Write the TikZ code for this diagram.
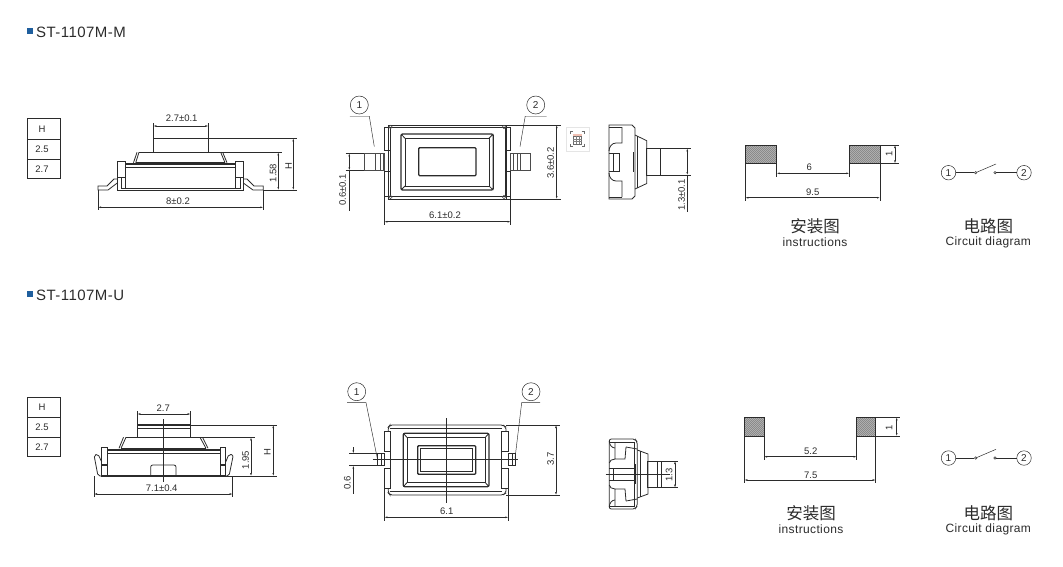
\documentclass[tikz,border=0pt]{standalone}
\usepackage{fontspec}
\setmainfont{Liberation Sans}
\newfontfamily\widefont[LetterSpace=3]{Liberation Sans}
\newfontfamily\cjkfont{Noto Sans CJK SC}
\usetikzlibrary{arrows.meta}
\definecolor{inkgray}{HTML}{2B2B2B}
\definecolor{markblue}{HTML}{1F5F9E}
\tikzset{
  part/.style={line width=0.8, color=inkgray},
  partthin/.style={line width=0.4, color=inkgray!85},
  partbold/.style={line width=1.3, color=inkgray},
  dimline/.style={line width=0.5, color=inkgray, {Latex[length=3pt,width=1.8pt]}-{Latex[length=3pt,width=1.8pt]}},
  extline/.style={line width=0.45, color=inkgray},
  dimtext/.style={font=\fontsize{9.5}{10}\selectfont, text=inkgray, inner sep=0},
  pinmark/.style={circle, draw=inkgray, line width=0.5, minimum size=18pt, inner sep=0, font=\fontsize{10}{10}\selectfont, text=inkgray},
  pinsmall/.style={circle, draw=inkgray, line width=0.5, minimum size=14.5pt, inner sep=0, font=\fontsize{10}{10}\selectfont, text=inkgray},
  tinydot/.style={circle, draw=inkgray, line width=0.5, minimum size=2.4pt, inner sep=0},
  cjklabel/.style={font=\cjkfont\fontsize{16.5}{17}\selectfont, text=inkgray, inner sep=0},
  enlabel/.style={font=\widefont\fontsize{12}{12}\selectfont, text=inkgray, inner sep=0},
  headtext/.style={font=\widefont\fontsize{15}{15}\selectfont, text=inkgray, inner sep=0, anchor=west},
}
% hatched footprint pad
\newcommand{\hatchpad}[4]{%
  \begin{scope}
    \clip (#1,#2) rectangle (#3,#4);
    \foreach \k in {0,2,...,60} {%
      \draw [line width=0.7, color=inkgray!75] (#1+\k-22,#4) -- ++(22,-22);%
    }%
  \end{scope}
  \draw [part] (#1,#2) rectangle (#3,#4);%
}
\begin{document}
\begin{tikzpicture}[x=1pt, y=-1pt]
  \useasboundingbox (0,0) rectangle (1063,566);

  % headings
  \foreach \nm/\txt/\yy in {headM/ST-1107M-M/32, headU/ST-1107M-U/295} {%
    \fill [markblue] (27.3,\yy-3.7) rectangle ++(6,6);
    \node [headtext] (\nm) at (36,\yy+0.5) {\txt};
  }

  % height tables
  \foreach \nm/\ya/\yb/\yc/\yd in {tabM/118.5/139.5/159.7/178, tabU/397.3/417.3/437.7/456.7} {%
    \draw [part] (27,\ya) rectangle (60.5,\yd);
    \draw [part] (27,\yb) -- (60.5,\yb) (27,\yc) -- (60.5,\yc);
    \node [dimtext] (\nm h) at (42,{(\ya+\yb)/2}) {H};
    \node [dimtext] (\nm a) at (42,{(\yb+\yc)/2}) {2.5};
    \node [dimtext] (\nm b) at (42,{(\yc+\yd)/2}) {2.7};
  }

  %%%%% ST-1107M-M front view
  \draw [part] (153.3,152.3) -- (153.3,138.3) -- (208.3,138.3) -- (208.3,152.3);
  \draw [partbold] (139,152.3) -- (220.7,152.3);
  \draw [part] (139,152.3) -- (135.7,162.7) (137,152.3) -- (133.5,162.7);
  \draw [part] (220.7,152.3) -- (225,162.7) (222.7,152.3) -- (227,162.7);
  \draw [part] (135.7,162.7) -- (225,162.7);
  \draw [partbold] (125,164) -- (235,164);
  \draw [part] (125,167.3) -- (235,167.3);
  \draw [part] (117.3,161.7) rectangle (125,177) (235.7,161.7) rectangle (243.3,177);
  \draw [part] (117.3,161.7) -- (117.3,190) -- (243.3,190) -- (243.3,161.7);
  \draw [part] (125,161.7) -- (125,164) (235.7,161.7) -- (235.7,164);
  \draw [part] (121,177) -- (121,188) -- (240,188) -- (240,177);
  \draw [part] (125,177) -- (125,188) (235.7,177) -- (235.7,188);
  \draw [part] (117.3,179) -- (114,179) -- (107,186) -- (98,186) -- (98,190) -- (108,190) -- (117.3,183);
  \draw [part] (243.3,179) -- (247,179) -- (254,186) -- (263.3,186) -- (263.3,190) -- (253,190) -- (243.3,183);

  \draw [extline] (153.3,123) -- (153.3,138.3) (208.3,123) -- (208.3,138.3);
  \draw [dimline] (153.3,126) -- (208.3,126);
  \node [dimtext] (dimMa) at (181.7,118.7) {2.7±0.1};
  \draw [extline] (98,190) -- (98,210) (263.3,190) -- (263.3,210);
  \draw [dimline] (98,207.3) -- (263.3,207.3);
  \node [dimtext] (dimMb) at (178,201) {8±0.2};
  \draw [extline] (220.7,152.3) -- (282,152.3) (263.3,190) -- (297,190) (208.3,138.3) -- (297,138.3);
  \draw [dimline] (278.3,152.3) -- (278.3,190);
  \node [dimtext, rotate=90] (dimMc) at (273,173) {1.58};
  \draw [dimline] (293.3,138.3) -- (293.3,190);
  \node [dimtext, rotate=90] (dimMd) at (288.5,166) {H};

  %%%%% ST-1107M-M top view
  \draw [part] (388,125) -- (506,125) (388,199) -- (506,199);
  \draw [part] (384.3,127.7) -- (390,127.7) -- (390,150.7) -- (384.3,150.7) -- cycle;
  \draw [part] (384.3,171.7) -- (390,171.7) -- (390,196.7) -- (384.3,196.7) -- cycle;
  \draw [part] (510.7,127.7) -- (505,127.7) -- (505,150.7) -- (510.7,150.7) -- cycle;
  \draw [part] (510.7,171.7) -- (505,171.7) -- (505,196.7) -- (510.7,196.7) -- cycle;
  \draw [part] (388,125) -- (388,199) (506,125) -- (506,199);
  \draw [part] (390,150.7) -- (390,171.7) (505,150.7) -- (505,171.7);
  \draw [part] (390,127.7) -- (505,127.7) (390,196.7) -- (505,196.7);
  \foreach \cx/\cy in {390.5/127, 504/127, 390.5/197, 504/197} {%
    \draw [partthin, line width=0.6] (\cx,\cy) circle (1.8);
  }
  \draw [partbold, rounded corners=1.5] (401,134) rectangle (493.3,190);
  \draw [part] (405,138.3) rectangle (489,186);
  \draw [part] (401,134) -- (405,138.3) (493.3,134) -- (489,138.3)
               (401,190) -- (405,186) (493.3,190) -- (489,186);
  \draw [partbold, rounded corners=1] (418.7,147.7) rectangle (476,175.7);
  \foreach \xa/\xb/\xc/\xd in {364.3/384.3/375/383, 530.7/510.7/520/513} {%
    \draw [partthin, line width=0.6] (\xa,153.3) rectangle (\xb,170.3);
    \draw [partthin] (\xc,153.3) -- (\xc,170.3) (\xd,153.3) -- (\xd,170.3);
    \draw [partthin] ({(\xc+\xd)/2+1},153.3) -- ({(\xc+\xd)/2+1},170.3);
  }

  \node [pinmark] (pinMa) at (359.3,105) {1};
  \node [pinmark] (pinMb) at (535.7,105) {2};
  \coordinate (leadMa) at (374.3,146.7);
  \coordinate (leadMb) at (520,146.7);
  \draw [extline] ([xshift=-9.5pt,yshift=-2pt]pinMa.south) -- ([xshift=10pt,yshift=-2pt]pinMa.south) -- (leadMa);
  \draw [extline] ([xshift=11pt,yshift=-2pt]pinMb.south) -- ([xshift=-10.5pt,yshift=-2pt]pinMb.south) -- (leadMb);

  \draw [extline] (506,125) -- (561,125) (506,199) -- (561,199);
  \draw [dimline] (556.7,125) -- (556.7,199);
  \node [dimtext, rotate=90] (dimMe) at (550.7,163) {3.6±0.2};
  \draw [extline] (384.3,196.7) -- (384.3,225) (510.7,196.7) -- (510.7,225);
  \draw [dimline] (384.3,221.7) -- (510.7,221.7);
  \node [dimtext] (dimMf) at (445,215) {6.1±0.2};
  \draw [extline] (345.7,153.3) -- (364.3,153.3) (345.7,170.3) -- (364.3,170.3);
  \draw [dimline] (349.3,153.3) -- (349.3,170.3);
  \draw [extline] (349.3,170.3) -- (349.3,210.7);
  \node [dimtext, rotate=90] (dimMg) at (342.7,190) {0.6±0.1};

  % screenshot tool icon
  \fill [black!5] (566.5,128) rectangle (590,151.7);
  \draw [line width=0.3, color=black!10, fill=white] (565.7,127.3) rectangle (589,150.7);
  \draw [line width=0.5, color=inkgray!70] (570.5,134) -- (570.5,131.7) -- (573,131.7)
        (581.5,131.7) -- (584,131.7) -- (584,134)
        (584,143.5) -- (584,146) -- (581.5,146)
        (573,146) -- (570.5,146) -- (570.5,143.5);
  \fill [red!40!brown!35] (573,134.3) rectangle (581.5,136);
  \draw [line width=0.35, color=inkgray!70] (573,136) rectangle (581.5,144);
  \foreach \gx in {575.8,578.7} {\draw [line width=0.25, color=inkgray!60] (\gx,136) -- (\gx,144);}
  \foreach \gy in {138.7,141.3} {\draw [line width=0.25, color=inkgray!60] (573,\gy) -- (581.5,\gy);}

  %%%%% ST-1107M-M side view
  \draw [part] (609,125) -- (632,125) -- (635,128) -- (635,196) -- (632,199) -- (609,199) -- cycle;
  \draw [part] (635,135) -- (646.7,140.7) -- (646.7,183.5) -- (635,189);
  \draw [part] (637.5,136) -- (637.5,188);
  \draw [part] (609,127) -- (622,127) (609,197) -- (622,197);
  \draw [part] (622,127) -- (622,143) -- (616,143) arc (270:180:7 and 8);
  \draw [part] (622,197) -- (622,181) -- (616,181) arc (90:180:7 and 8);
  \draw [part] (609,153) -- (619,153) -- (619,171) -- (609,171);
  \draw [part] (613,153) -- (613,171);
  \draw [partbold] (633.5,152) -- (633.5,172);
  \draw [part] (646.7,148.3) rectangle (660.7,175);
  \draw [part] (660.7,148.3) -- (691,148.3) (660.7,175) -- (691,175);
  \draw [dimline] (687.3,148.3) -- (687.3,175);
  \draw [extline] (687.3,175) -- (687.3,211.7);
  \node [dimtext, rotate=90] (dimMh) at (681.7,195) {1.3±0.1};

  %%%%% footprint M
  \hatchpad{745.3}{145}{776.7}{163.3}
  \hatchpad{849.3}{145}{880}{163.3}
  \draw [extline] (745.3,163.3) -- (745.3,201) (880,163.3) -- (880,201);
  \draw [extline] (776.7,163.3) -- (776.7,176.5) (849.3,163.3) -- (849.3,176.5);
  \draw [dimline] (776.7,173.3) -- (849.3,173.3);
  \node [dimtext] (dimMi) at (809.3,167.7) {6};
  \draw [dimline] (745.3,197.7) -- (880,197.7);
  \node [dimtext] (dimMj) at (812.7,192.7) {9.5};
  \draw [extline] (880,145) -- (899,145) (880,163.3) -- (899,163.3);
  \draw [dimline] (895,145) -- (895,163.3);
  \node [dimtext, rotate=90] (dimMk) at (889,154.3) {1};
  \node [cjklabel] (instM) at (815,226.7) {安装图};
  \node [enlabel] (instMe) at (815,242.7) {instructions};

  %%%%% circuits
  \foreach \nm/\cy/\ly/\ey in {M/172.7/226/242.3, U/458/513/529} {%
    \node [pinsmall] (sw\nm a) at (948.5,\cy) {1};
    \node [pinsmall] (sw\nm b) at (1024,\cy) {2};
    \node [tinydot] (sw\nm c) at (975.7,\cy) {};
    \node [tinydot] (sw\nm d) at (995,\cy) {};
    \coordinate (sw\nm e) at (996,\cy-8.7);
    \draw [extline, line width=0.5] (sw\nm a) -- (sw\nm c);
    \draw [extline, line width=0.5] (sw\nm d) -- (sw\nm b);
    \draw [extline, line width=0.5] (sw\nm c) -- (sw\nm e);
    \node [cjklabel] (sw\nm t) at (988.3,\ly) {电路图};
    \node [enlabel] (sw\nm g) at (988.3,\ey) {Circuit diagram};
  }

  %%%%% ST-1107M-U front view
  \draw [partbold] (137.3,425) -- (190.7,425);
  \draw [part] (137.3,425) rectangle (190.7,437.3);
  \draw [part] (137.3,428) -- (190.7,428);
  \draw [partbold] (126,437.3) -- (200,437.3);
  \draw [part] (126,437.3) -- (121,448.3) (123.5,437.3) -- (119,448.3);
  \draw [part] (200,437.3) -- (206,448.3) (202.5,437.3) -- (208,448.3);
  \draw [part] (121,448.3) -- (206,448.3);
  \draw [partbold] (107.3,450) -- (220,450);
  \draw [part] (107.3,453.3) -- (220,453.3);
  \draw [part] (107.3,450) -- (107.3,476) (220,450) -- (220,476);
  \draw [part] (101.7,447.7) rectangle (107.3,476) (220,447.7) rectangle (225.7,476);
  \draw [partbold] (101.7,465) -- (107.3,465) (220,465) -- (225.7,465);
  \draw [partbold] (101.7,476) -- (225.7,476);
  \draw [part, rounded corners=2] (150.7,476) -- (150.7,465) -- (176,465) -- (176,476);
  \draw [part, rounded corners=2] (101.7,476) -- (98,476) -- (94,455) -- (98,454) -- (101.7,462);
  \draw [part, rounded corners=2] (225.7,476) -- (229,476) -- (233.3,455) -- (229,454) -- (225.7,462);
  \draw [extline, line width=0.5] (163.3,419.3) -- (163.3,481.7);

  \draw [extline] (137.3,411) -- (137.3,425) (190.7,411) -- (190.7,425);
  \draw [dimline] (137.3,414) -- (190.7,414);
  \node [dimtext] (dimUa) at (163.3,407.7) {2.7};
  \draw [extline] (94,476) -- (94,497) (232.7,476) -- (232.7,497);
  \draw [dimline] (94,494) -- (232.7,494);
  \node [dimtext] (dimUb) at (161.7,488.3) {7.1±0.4};
  \draw [extline] (200,437.3) -- (255,437.3) (225.7,476) -- (277,476) (190.7,425) -- (277,425);
  \draw [dimline] (251,437.3) -- (251,476);
  \node [dimtext, rotate=90] (dimUc) at (245.7,460) {1.95};
  \draw [dimline] (273.3,425) -- (273.3,476);
  \node [dimtext, rotate=90] (dimUd) at (267.3,451.7) {H};

  %%%%% ST-1107M-U top view
  \draw [part, rounded corners=2] (388.3,431.7) -- (388.3,427) -- (390,425) -- (503,425) -- (506,427) -- (506,431.7);
  \draw [part, rounded corners=2] (388.3,488.3) -- (388.3,493) -- (390,495) -- (503,495) -- (506,493) -- (506,488.3);
  \draw [part] (384.3,431.7) rectangle (390,451);
  \draw [part] (384.3,468.3) rectangle (390,488.3);
  \draw [part] (501.7,431.7) rectangle (508.3,451);
  \draw [part] (501.7,468.3) rectangle (508.3,488.3);
  \draw [part] (390,451) -- (390,468.3) (501.7,451) -- (501.7,468.3);
  \draw [part] (390,428.5) -- (501.7,428.5) (390,491.5) -- (501.7,491.5);
  \draw [partbold, rounded corners=1.5] (403.3,433.3) rectangle (489,486.7);
  \draw [part] (407.3,437.7) rectangle (485,482.3);
  \draw [part] (403.3,433.3) -- (407.3,437.7) (489,433.3) -- (485,437.7)
               (403.3,486.7) -- (407.3,482.3) (489,486.7) -- (485,482.3);
  \draw [partbold, rounded corners=1] (417.7,445.7) rectangle (475.7,474.3);
  \draw [part] (420.7,448.7) rectangle (472.7,471.3);
  \draw [part] (377.3,453.3) rectangle (384.3,465.7);
  \draw [part] (508.3,453.3) rectangle (515,465.7);
  \draw [part] (381,453.3) -- (381,465.7) (512,453.3) -- (512,465.7);
  \draw [extline, line width=0.5] (446.3,418.3) -- (446.3,503.3);
  \draw [extline, line width=0.5] (372.7,459.3) -- (518.3,459.3);

  \node [pinmark] (pinUa) at (356.7,391.7) {1};
  \node [pinmark] (pinUb) at (531,391.7) {2};
  \coordinate (leadUa) at (377.3,458.3);
  \coordinate (leadUb) at (515,458.3);
  \draw [extline] ([xshift=-9.5pt,yshift=-1.6pt]pinUa.south) -- ([xshift=9.3pt,yshift=-1.6pt]pinUa.south) -- (leadUa);
  \draw [extline] ([xshift=9pt,yshift=-1.6pt]pinUb.south) -- ([xshift=-9.3pt,yshift=-1.6pt]pinUb.south) -- (leadUb);

  \draw [extline] (506,425) -- (560,425) (506,495) -- (560,495);
  \draw [dimline] (556,425) -- (556,495);
  \node [dimtext, rotate=90] (dimUe) at (550.7,459.3) {3.7};
  \draw [extline] (384.3,488) -- (384.3,521) (508.3,488) -- (508.3,521);
  \draw [dimline] (384.3,517.3) -- (508.3,517.3);
  \node [dimtext] (dimUf) at (446.7,511) {6.1};
  \draw [extline] (349.3,453.3) -- (377.3,453.3) (349.3,465.7) -- (377.3,465.7);
  \draw [extline, {Latex[length=3pt,width=1.8pt]}-] (353.3,453.3) -- (353.3,446.7);
  \draw [extline, {Latex[length=3pt,width=1.8pt]}-] (353.3,465.7) -- (353.3,494.3);
  \node [dimtext, rotate=90] (dimUg) at (347.3,483.3) {0.6};

  %%%%% ST-1107M-U side view
  \draw [part, rounded corners=2] (609.3,439) -- (635,439) -- (637.3,442) -- (637.3,506) -- (635,509) -- (609.3,509) -- cycle;
  \draw [part] (609.3,442) -- (634,442) -- (634,506) -- (609.3,506);
  \draw [part] (626,447) -- (625,459) -- (615,459) -- (615,448) (615,442) -- (615,448);
  \draw [part] (626,501) -- (625,489) -- (615,489) -- (615,500) (615,506) -- (615,500);
  \draw [part] (615,448) arc (90:180:5.7 and 7) (615,459) arc (-90:-180:5.7 and 4);
  \draw [part] (615,500) arc (270:180:5.7 and 7) (615,489) arc (90:180:5.7 and 4);
  \draw [part] (626,447) -- (637.3,449) (626,501) -- (637.3,499);
  \draw [part] (637.3,450) -- (648,454) -- (648,494) -- (637.3,498);
  \draw [part] (640,451) -- (640,497);
  \draw [part] (609.3,468) -- (634,468) (609.3,480) -- (634,480) (613,468) -- (613,480);
  \draw [partbold] (635.5,464) -- (635.5,484);
  \draw [part] (647.3,461) rectangle (661,487.7);
  \draw [part] (657,461) -- (657,487.7);
  \draw [extline, line width=0.5] (605.7,474) -- (670,474);
  \draw [extline] (661,461) -- (678,461) (661,487.7) -- (678,487.7);
  \draw [dimline] (675,461) -- (675,487.7);
  \node [dimtext, rotate=90] (dimUh) at (669,475) {1.3};

  %%%%% footprint U
  \hatchpad{744.3}{417.3}{764}{436}
  \hatchpad{856.7}{417.3}{875.7}{436}
  \draw [extline] (744.3,436) -- (744.3,483) (875.7,436) -- (875.7,483);
  \draw [extline] (764,436) -- (764,460) (856.7,436) -- (856.7,460);
  \draw [dimline] (764,456.7) -- (856.7,456.7);
  \node [dimtext] (dimUi) at (810.7,451.7) {5.2};
  \draw [dimline] (744.3,480) -- (875.7,480);
  \node [dimtext] (dimUj) at (810.7,475.3) {7.5};
  \draw [extline] (875.7,417.3) -- (900,417.3) (875.7,436) -- (900,436);
  \draw [dimline] (896.7,417.3) -- (896.7,436);
  \node [dimtext, rotate=90] (dimUk) at (889,428) {1};
  \node [cjklabel] (instU) at (811,513.3) {安装图};
  \node [enlabel] (instUe) at (811,529) {instructions};
\end{tikzpicture}
\end{document}
